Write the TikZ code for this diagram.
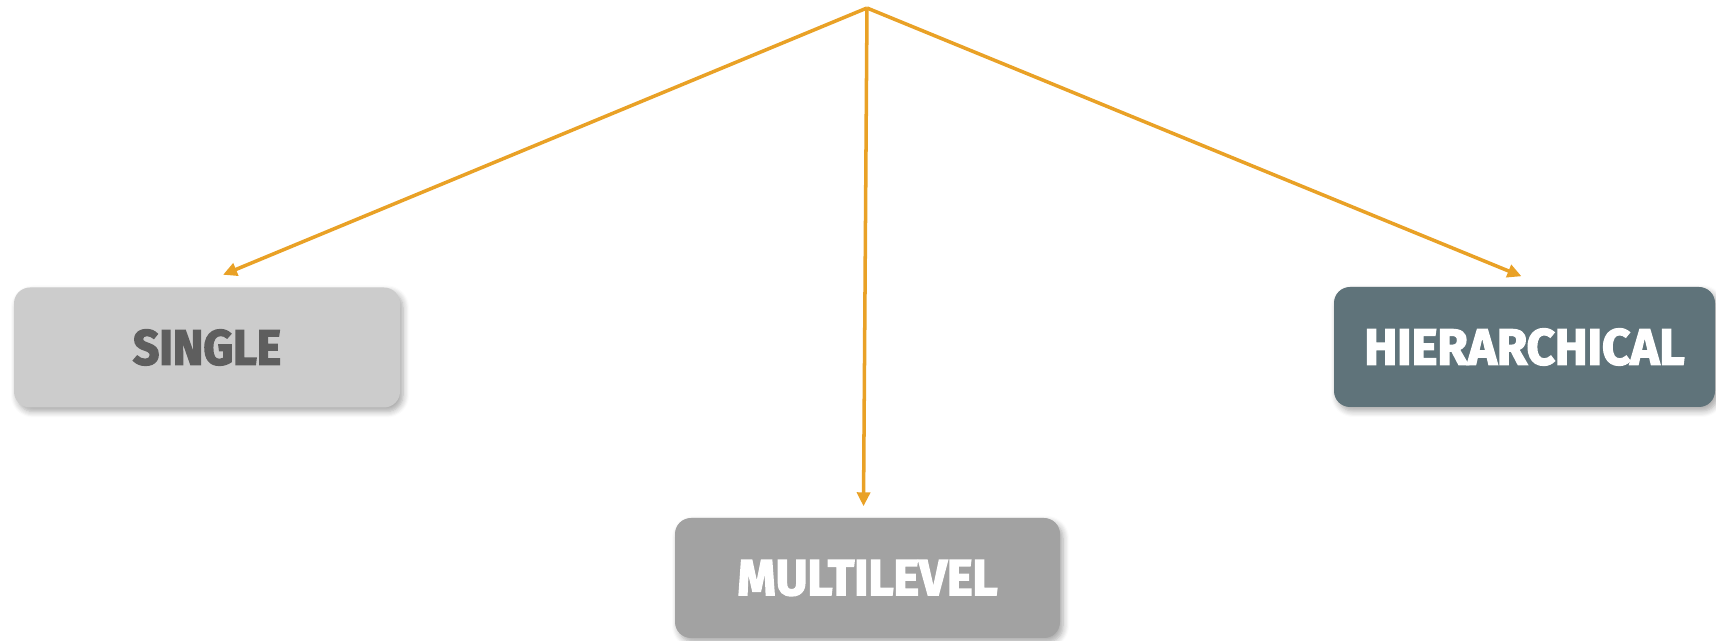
\documentclass[tikz,border=0pt]{standalone}
\usepackage{fontspec}
\setmainfont{Fira Sans}
\newfontfamily\heavy{Fira Sans}[UprightFont={* Bold}, UprightFeatures={FakeBold=3}]
\usetikzlibrary{arrows.meta,shadows.blur}
\definecolor{arrowc}{HTML}{E9A126}
\definecolor{singlefill}{HTML}{CCCCCC}
\definecolor{singletext}{HTML}{5E5E5E}
\definecolor{multifill}{HTML}{A2A2A2}
\definecolor{hierfill}{HTML}{5F737A}
\tikzset{
  boxnode/.style={rectangle, rounded corners=0.16cm, minimum height=1.2cm, inner sep=0pt,
    blur shadow={shadow xshift=0.03cm, shadow yshift=-0.04cm, shadow blur radius=0.06cm, shadow blur steps=6, shadow opacity=35}},
  link/.style={draw=arrowc, line width=1pt, -{Triangle[length=0.14cm,width=0.13cm]}}
}
\begin{document}
\begin{tikzpicture}
\useasboundingbox (0,0) rectangle (17.16,6.41);
\coordinate (top) at (8.67,6.33);
\node[boxnode, fill=singlefill, minimum width=3.86cm, text=singletext] (single) at (2.07,2.935)
  {\resizebox{1.48cm}{0.35cm}{\heavy SINGLE}};
\node[boxnode, fill=multifill, minimum width=3.85cm, text=white] (multi) at (8.675,0.63)
  {\resizebox{2.6cm}{0.35cm}{\heavy MULTILEVEL}};
\node[boxnode, fill=hierfill, minimum width=3.81cm, text=white] (hier) at (15.245,2.94)
  {\resizebox{3.2cm}{0.36cm}{\heavy HIERARCHICAL}};
\draw[link] (top) -- ([xshift=0.16cm,yshift=0.12cm]single.north);
\draw[link] (top) -- ([xshift=-0.04cm,yshift=0.11cm]multi.north);
\draw[link] (top) -- ([xshift=-0.03cm,yshift=0.1cm]hier.north);
\end{tikzpicture}
\end{document}
